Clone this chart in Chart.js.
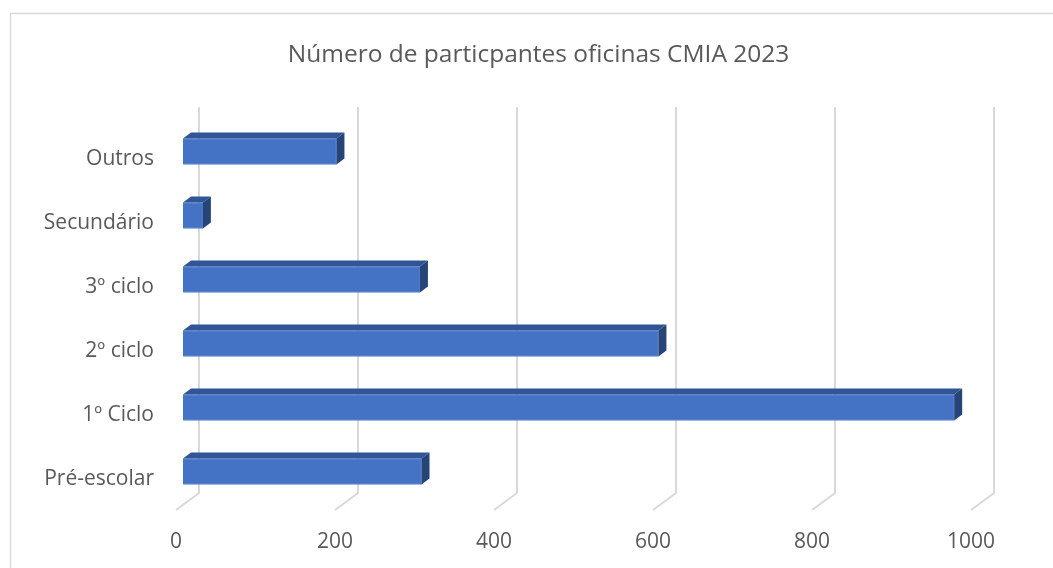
<!DOCTYPE html>
<html>
<head>
<meta charset="utf-8">
<script src="https://cdn.jsdelivr.net/npm/chart.js@4"></script>
<style>
  html, body { margin: 0; padding: 0; background: #ffffff; }
  #wrap { width: 1053px; height: 568px; }
</style>
</head>
<body>
<div id="wrap"><canvas id="c" width="1053" height="568"></canvas></div>
<script>
const titleText = "Número de particpantes oficinas CMIA 2023";
const categories = ["Pré-escolar", "1º Ciclo", "2º ciclo", "3º ciclo", "Secundário", "Outros"];
const participants = [300, 970, 598, 298, 25, 193];
const xTicks = [0, 200, 400, 600, 800, 1000];

const TEXT = "#595959";
const GRID = "#d9d9d9";
const FRONT = "#4472c4";
const TOP = "#2f5597";
const SIDE = "#264478";
const DX = 8, DY = 6;

const framePlugin = {
  id: "frame",
  beforeDraw(chart) {
    const ctx = chart.ctx;
    ctx.save();
    ctx.fillStyle = "#ffffff";
    ctx.fillRect(0, 0, chart.width, chart.height);
    ctx.strokeStyle = GRID;
    ctx.lineWidth = 1.5;
    ctx.strokeRect(10.5, 13.5, chart.width + 20, chart.height + 20);
    ctx.restore();
  }
};

const gridPlugin = {
  id: "grid3d",
  beforeDatasetsDraw(chart) {
    const ctx = chart.ctx;
    const xs = chart.scales.x;
    const a = chart.chartArea;
    ctx.save();
    ctx.strokeStyle = GRID;
    ctx.lineWidth = 2;
    xTicks.forEach(v => {
      const xf = xs.getPixelForValue(v);
      ctx.beginPath();
      ctx.moveTo(xf + 16, a.top - 12.5);
      ctx.lineTo(xf + 16, a.bottom - 10.5);
      ctx.lineTo(xf - 7, a.bottom + 6.5);
      ctx.stroke();
    });
    ctx.restore();
  }
};

const bar3dPlugin = {
  id: "bar3d",
  afterDatasetsDraw(chart) {
    const ctx = chart.ctx;
    const meta = chart.getDatasetMeta(0);
    ctx.save();
    meta.data.forEach(bar => {
      const p = bar.getProps(["x", "y", "base", "height"], true);
      const t = p.y - p.height / 2, b = p.y + p.height / 2;
      const x0 = Math.min(p.base, p.x), x1 = Math.max(p.base, p.x);
      ctx.fillStyle = TOP;
      ctx.beginPath();
      ctx.moveTo(x0, t);
      ctx.lineTo(x1, t);
      ctx.lineTo(x1 + DX, t - DY);
      ctx.lineTo(x0 + DX, t - DY);
      ctx.closePath();
      ctx.fill();
      ctx.fillStyle = SIDE;
      ctx.beginPath();
      ctx.moveTo(x1, t);
      ctx.lineTo(x1 + DX, t - DY);
      ctx.lineTo(x1 + DX, b - DY);
      ctx.lineTo(x1, b);
      ctx.closePath();
      ctx.fill();
    });
    ctx.restore();
  }
};

// plot area extends to the right edge; the x scale is stretched so that 1000 sits where it does in the reference
const X_MAX = 1094.3;

new Chart(document.getElementById("c"), {
  type: "bar",
  data: {
    labels: categories,
    datasets: [{
      data: participants,
      backgroundColor: FRONT,
      borderColor: "#5a86d0",
      borderWidth: 1,
      barThickness: 26
    }]
  },
  options: {
    indexAxis: "y",
    responsive: false,
    animation: false,
    devicePixelRatio: 1,
    layout: { padding: { left: 24, right: 0, top: 0, bottom: 0 } },
    plugins: {
      legend: { display: false },
      tooltip: { enabled: false },
      title: {
        display: true,
        text: titleText,
        color: TEXT,
        font: { family: "'Open Sans', sans-serif", size: 24.5, weight: "normal" },
        padding: { top: 40.3, bottom: 49.8 }
      }
    },
    scales: {
      x: {
        min: 0,
        max: X_MAX,
        afterBuildTicks(scale) { scale.ticks = xTicks.map(v => ({ value: v })); },
        grid: { display: false, drawTicks: false },
        border: { display: false },
        ticks: {
          color: TEXT,
          font: { family: "'Open Sans', sans-serif", size: 21 },
          padding: 26,
          labelOffset: -7,
          maxRotation: 0,
          callback: (v) => String(v)
        },
        afterFit(scale) { scale.height = 64.5; }
      },
      y: {
        reverse: true,
        grid: { display: false, drawTicks: false },
        border: { display: false },
        ticks: {
          color: TEXT,
          font: { family: "'Open Sans', sans-serif", size: 21 },
          padding: 29,
          labelOffset: 8
        },
        afterFit(scale) { scale.width = 159; }
      }
    }
  },
  plugins: [framePlugin, gridPlugin, bar3dPlugin]
});
</script>
</body>
</html>
